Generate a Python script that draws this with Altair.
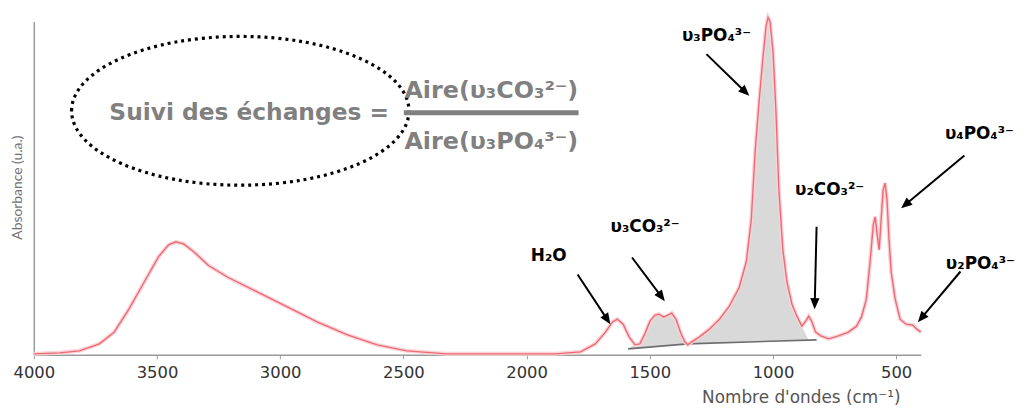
import math
import altair as alt
import numpy as np
import pandas as pd

# ---- spectrum ----
wavenumber = [4000, 3895, 3815, 3734, 3674, 3614, 3553, 3493, 3453, 3424, 3392, 3352, 3291,
              3211, 3091, 2969, 2848, 2727, 2606, 2486, 2325, 2123, 1882, 1781, 1721, 1680,
              1652, 1632, 1608, 1584, 1560, 1540, 1520, 1499, 1479, 1463, 1443, 1427, 1411,
              1394, 1374, 1358, 1346, 1330, 1298, 1258, 1217, 1177, 1137, 1108, 1088, 1072,
              1056, 1040, 1028, 1020, 1012, 1000, 988, 976, 960, 943, 923, 903, 883, 867,
              855, 843, 827, 806, 774, 734, 694, 661, 641, 621, 605, 593, 585, 577, 569, 561,
              553, 545, 537, 529, 520, 504, 484, 460, 432, 416, 400]
absorbance = [0.003, 0.006, 0.012, 0.033, 0.068, 0.137, 0.217, 0.295, 0.330, 0.339, 0.333,
              0.310, 0.268, 0.232, 0.188, 0.143, 0.098, 0.060, 0.030, 0.012, 0.003, 0.003,
              0.003, 0.009, 0.033, 0.068, 0.098, 0.107, 0.092, 0.054, 0.030, 0.033, 0.063,
              0.101, 0.119, 0.122, 0.113, 0.119, 0.125, 0.107, 0.065, 0.039, 0.030, 0.039,
              0.054, 0.077, 0.107, 0.146, 0.202, 0.280, 0.405, 0.613, 0.762, 0.896, 0.985,
              1.012, 1.000, 0.911, 0.732, 0.494, 0.315, 0.217, 0.152, 0.116, 0.086, 0.101,
              0.116, 0.101, 0.068, 0.057, 0.048, 0.057, 0.068, 0.086, 0.113, 0.167, 0.286,
              0.390, 0.414, 0.360, 0.315, 0.405, 0.494, 0.515, 0.464, 0.345, 0.247, 0.167,
              0.107, 0.092, 0.089, 0.077, 0.068]

# integration baselines
co3_base_wn = [1588, 1346]
co3_base_abs = [0.018, 0.033]
po4_base_wn = [1346, 823]
po4_base_abs = [0.033, 0.045]
co3_curve_range = [1575, 1346]
po4_curve_range = [1346, 883]
po4_end_wn = 855

# band labels and arrows
labels = ["H₂O", "υ₃CO₃²⁻", "υ₃PO₄³⁻", "υ₂CO₃²⁻", "υ₄PO₄³⁻", "υ₂PO₄³⁻"]
label_wn = [1910, 1519, 1229, 770, 162, 158]
label_abs = [0.295, 0.384, 0.955, 0.494, 0.661, 0.271]
arrow_wn0 = [1793, 1572, 1270, 823, 223, 239]
arrow_abs0 = [0.241, 0.292, 0.902, 0.384, 0.598, 0.250]
arrow_wn1 = [1660, 1439, 1096, 831, 480, 412]
arrow_abs1 = [0.092, 0.161, 0.777, 0.137, 0.440, 0.098]

# formula annotation
formula_left = "Suivi des échanges ="
formula_num = "Aire(υ₃CO₃²⁻)"
formula_den = "Aire(υ₃PO₄³⁻)"
formula_left_pos = [3126, 0.726]
formula_num_pos = [2143, 0.792]
formula_den_pos = [2143, 0.637]
formula_bar = [2498, 1789, 0.726]
ellipse_center = [3162, 0.732]

x_ticks = [4000, 3500, 3000, 2500, 2000, 1500, 1000, 500]
x_domain = [400, 4000]
y_domain = [0, 1]

W, H = 894, 336
AFONT = "DejaVu Sans"
LFONT = "DejaVu Sans"

xs = alt.Scale(domain=x_domain, reverse=True, nice=False, zero=False)
ys = alt.Scale(domain=y_domain, nice=False, zero=False)

x_axis = alt.Axis(values=x_ticks, format="d", grid=False, domainColor="#9a9a9a",
                  domainWidth=1.5, tickColor="#9a9a9a", tickSize=4,
                  labelFont=AFONT, labelFontSize=16.5, labelColor="#333333",
                  labelPadding=6, labelFlush=False,
                  titleFont=AFONT, titleFontSize=17, titleFontWeight="normal",
                  titleColor="#555555", titleX=873, titleY=48,
                  titleAlign="right", titleBaseline="alphabetic")
y_axis = alt.Axis(labels=False, ticks=False, grid=False, domainColor="#9a9a9a",
                  domainWidth=1.5, titleFont="Lato", titleFontSize=14,
                  titleFontWeight="normal", titleColor="#707070",
                  titleAngle=-90, titleX=-16, titleY=167,
                  titleAlign="center", titleBaseline="middle")
X_TITLE = "Nombre d'ondes (cm⁻¹)"
Y_TITLE = "Absorbance (u.a.)"

X = lambda f: alt.X(f, type="quantitative", scale=xs, axis=x_axis, title=X_TITLE)
Y = lambda f: alt.Y(f, type="quantitative", scale=ys, axis=y_axis, title=Y_TITLE)

spec = pd.DataFrame({"wn": wavenumber, "a": absorbance})

wn_arr = np.array(wavenumber, dtype=float)
a_arr = np.array(absorbance, dtype=float)


def band(rng, base_wn, base_abs, extra_wn, extra_first):
    hi, lo = rng
    m = (wn_arr <= hi) & (wn_arr >= lo)
    w = list(wn_arr[m])
    t = list(a_arr[m])
    if extra_first:
        w = [extra_wn] + w
        t = [None] + t
    else:
        w = w + [extra_wn]
        t = t + [None]
    bw = sorted(base_wn)
    ba = [base_abs[base_wn.index(v)] for v in bw]
    b = list(np.interp(w, bw, ba))
    t = [bb if tt is None else tt for tt, bb in zip(t, b)]
    return pd.DataFrame({"wn": w, "top": t, "base": b})


co3 = band(co3_curve_range, co3_base_wn, co3_base_abs, co3_base_wn[0], True)
po4 = band(po4_curve_range, po4_base_wn, po4_base_abs, po4_end_wn, False)
areas = pd.concat([co3.assign(g="co3"), po4.assign(g="po4")])

base_lines = pd.DataFrame({
    "wn": co3_base_wn + po4_base_wn,
    "a": co3_base_abs + po4_base_abs,
    "g": ["co3", "co3", "po4", "po4"],
})

pxw = W / (x_domain[1] - x_domain[0])
pxa = H / (y_domain[1] - y_domain[0])
rows = []
for w0, a0, w1, a1 in zip(arrow_wn0, arrow_abs0, arrow_wn1, arrow_abs1):
    dx = -(w1 - w0) * pxw
    dy = -(a1 - a0) * pxa
    L = math.hypot(dx, dy)
    ang = math.degrees(math.atan2(dx, -dy)) % 360
    t = (L - 7) / L
    rows.append({"w0": w0, "a0": a0, "w1": w1, "a1": a1,
                 "ws": w0 + (w1 - w0) * t, "as": a0 + (a1 - a0) * t, "ang": ang})
arrows = pd.DataFrame(rows)

lab = pd.DataFrame({"t": labels, "wn": label_wn, "a": label_abs})

area_layer = alt.Chart(areas).mark_area(color="#d9d9d9", opacity=1).encode(
    x=X("wn"), y=Y("top"), y2="base", detail="g:N")
base_layer = alt.Chart(base_lines).mark_line(color="#6e6e6e", strokeWidth=1.6).encode(
    x=X("wn"), y=Y("a"), detail="g:N")

halo = alt.Chart(spec).mark_line(color="#fbd3d6", strokeWidth=4).encode(
    x=X("wn"), y=Y("a"))
curve = alt.Chart(spec).mark_line(color="#ec6a75", strokeWidth=1.4).encode(
    x=X("wn"), y=Y("a"))

shaft = alt.Chart(arrows).mark_rule(color="black", strokeWidth=2).encode(
    x=X("w0"), x2="ws", y=Y("a0"), y2="as")
head = alt.Chart(arrows).mark_point(
    shape="M 0 0 L 0.42 1 L -0.42 1 Z", filled=True, color="black", opacity=1,
    size=500).encode(x=X("w1"), y=Y("a1"), angle=alt.Angle("ang:Q", scale=None))

text_layer = alt.Chart(lab).mark_text(font=LFONT, fontSize=17, fontWeight="bold",
                                      color="black", align="center", baseline="middle").encode(
    x=X("wn"), y=Y("a"), text="t:N")

ell = alt.Chart(pd.DataFrame({"wn": [ellipse_center[0]], "a": [ellipse_center[1]]})).mark_point(
    shape=("M -1 0 C -1 -0.2436 -0.5523 -0.441 0 -0.441 C 0.5523 -0.441 1 -0.2436 1 0 "
           "C 1 0.2436 0.5523 0.441 0 0.441 C -0.5523 0.441 -1 0.2436 -1 0 Z"),
    size=340 * 340, filled=False, stroke="black", strokeWidth=3.2,
    strokeDash=[3, 4], opacity=1).encode(x=X("wn"), y=Y("a"))

ftxt_left = pd.DataFrame({"t": [formula_left], "wn": [formula_left_pos[0]],
                          "a": [formula_left_pos[1]]})
ftxt_frac = pd.DataFrame({
    "t": [formula_num, formula_den],
    "wn": [formula_num_pos[0], formula_den_pos[0]],
    "a": [formula_num_pos[1], formula_den_pos[1]],
})
formula1 = alt.Chart(ftxt_left).mark_text(font=LFONT, fontSize=23.5, fontWeight="bold",
                                          color="#808080", align="center",
                                          baseline="middle").encode(
    x=X("wn"), y=Y("a"), text="t:N")
formula2 = alt.Chart(ftxt_frac).mark_text(font=LFONT, fontSize=24, fontWeight="bold",
                                          color="#808080", align="center",
                                          baseline="middle").encode(
    x=X("wn"), y=Y("a"), text="t:N")
bar = alt.Chart(pd.DataFrame({"w0": [formula_bar[0]], "w1": [formula_bar[1]],
                              "a": [formula_bar[2]]})).mark_rule(
    color="#808080", strokeWidth=5).encode(x=X("w0"), x2="w1", y=Y("a"))

chart = alt.layer(area_layer, base_layer, halo, curve, shaft, head, text_layer,
                  ell, formula1, formula2, bar).properties(
    width=W, height=H,
    background="white",
    autosize=alt.AutoSizeParams(type="none"),
    padding={"left": 26, "top": 12, "right": 103, "bottom": 52},
).configure_view(strokeWidth=0)

chart.save("out.html", embed_options={"renderer": "svg", "actions": False})
